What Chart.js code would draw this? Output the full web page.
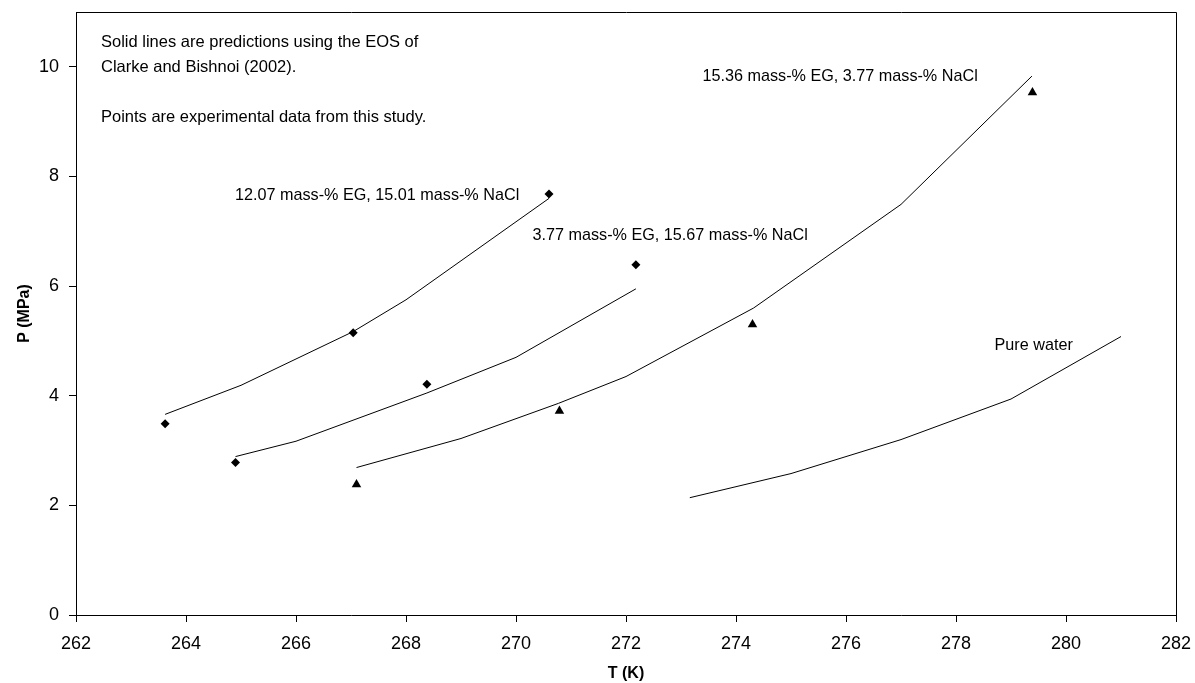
<!DOCTYPE html>
<html>
<head>
<meta charset="utf-8">
<script src="https://cdn.jsdelivr.net/npm/chart.js@4/dist/chart.umd.min.js"></script>
<style>
  html, body { margin: 0; padding: 0; background: #fff; }
  #wrap { width: 1195px; height: 683px; }
</style>
</head>
<body>
<div id="wrap"><canvas id="c" width="1195" height="683"></canvas></div>
<script>
// ---- Data ----
// 12.07 mass-% EG, 15.01 mass-% NaCl
const eg1207_T_line = [263.62, 265.0, 267.04, 268.0, 270.6];
const eg1207_P_line = [3.66, 4.19, 5.17, 5.75, 7.60];
const eg1207_T_exp  = [263.62, 267.04, 270.6];
const eg1207_P_exp  = [3.49, 5.15, 7.68];

// 3.77 mass-% EG, 15.67 mass-% NaCl
const eg377_T_line = [264.9, 266.0, 268.38, 270.0, 272.18];
const eg377_P_line = [2.89, 3.17, 4.05, 4.70, 5.95];
const eg377_T_exp  = [264.9, 268.38, 272.18];
const eg377_P_exp  = [2.78, 4.21, 6.39];

// 15.36 mass-% EG, 3.77 mass-% NaCl
const eg1536_T_line = [267.1, 269.0, 270.77, 272.0, 274.32, 277.0, 279.38];
const eg1536_P_line = [2.69, 3.22, 3.86, 4.35, 5.60, 7.49, 9.83];
const eg1536_T_exp  = [267.1, 270.79, 274.3, 279.39];
const eg1536_P_exp  = [2.38, 3.72, 5.30, 9.53];

// Pure water
const water_T_line = [273.16, 275.0, 277.0, 279.0, 281.0];
const water_P_line = [2.14, 2.58, 3.20, 3.94, 5.08];

const xTicks = [262, 264, 266, 268, 270, 272, 274, 276, 278, 280, 282];
const yTicks = [0, 2, 4, 6, 8, 10];

const seriesLabels = [
  "12.07 mass-% EG, 15.01 mass-% NaCl",
  "3.77 mass-% EG, 15.67 mass-% NaCl",
  "15.36 mass-% EG, 3.77 mass-% NaCl",
  "Pure water"
];
const noteLines = [
  "Solid lines are predictions using the EOS of",
  "Clarke and Bishnoi (2002).",
  "",
  "Points are experimental data from this study."
];

// ---- Helpers ----
const pts = (xs, ys) => xs.map((x, i) => ({ x: x, y: ys[i] }));
const lineDs = (xs, ys) => ({
  data: pts(xs, ys), showLine: true, borderColor: '#000', borderWidth: 1,
  pointRadius: 0, fill: false, tension: 0
});
const markDs = (xs, ys, style, r) => ({
  data: pts(xs, ys), showLine: false, pointStyle: style, pointRadius: r,
  backgroundColor: '#000', borderColor: '#000', borderWidth: 0
});

// label anchors (data coordinates, left edge / vertical centre)
const labelAnchors = [
  { t: 264.89, p: 7.65 },
  { t: 270.30, p: 6.92 },
  { t: 273.39, p: 9.83 },
  { t: 278.70, p: 4.92 }
];

const zeroPad = (s) => { s.paddingTop = 0; s.paddingBottom = 0; s.paddingLeft = 0; s.paddingRight = 0; };

const annotatePlugin = {
  id: 'annotate',
  afterDatasetsDraw(chart) {
    const { ctx, chartArea, scales } = chart;
    ctx.save();
    ctx.strokeStyle = '#000';
    ctx.lineWidth = 1;
    ctx.beginPath();
    ctx.moveTo(Math.round(chartArea.left) + 0.5, Math.round(chartArea.top) + 0.5);
    ctx.lineTo(Math.round(chartArea.right) + 0.5, Math.round(chartArea.top) + 0.5);
    ctx.lineTo(Math.round(chartArea.right) + 0.5, Math.round(chartArea.bottom) + 0.5);
    ctx.stroke();

    ctx.fillStyle = '#000';
    ctx.textBaseline = 'middle';
    ctx.textAlign = 'left';
    ctx.font = '16.5px "Liberation Sans", Arial, sans-serif';
    noteLines.forEach((s, i) => {
      ctx.fillText(s, chartArea.left + 25, chartArea.top + 30 + i * 25);
    });
    ctx.font = '16.2px "Liberation Sans", Arial, sans-serif';
    seriesLabels.forEach((s, i) => {
      const a = labelAnchors[i];
      ctx.fillText(s, scales.x.getPixelForValue(a.t), scales.y.getPixelForValue(a.p));
    });
    ctx.restore();
  }
};

new Chart(document.getElementById('c'), {
  type: 'scatter',
  data: {
    datasets: [
      lineDs(eg1207_T_line, eg1207_P_line),
      lineDs(eg377_T_line, eg377_P_line),
      lineDs(eg1536_T_line, eg1536_P_line),
      lineDs(water_T_line, water_P_line),
      markDs(eg1207_T_exp, eg1207_P_exp, 'rectRot', 4.5),
      markDs(eg377_T_exp, eg377_P_exp, 'rectRot', 4.5),
      markDs(eg1536_T_exp, eg1536_P_exp, 'triangle', 5.5)
    ]
  },
  options: {
    responsive: false,
    animation: false,
    devicePixelRatio: 1,
    layout: { padding: { top: 12, right: 19, left: 0, bottom: 0 } },
    plugins: { legend: { display: false }, tooltip: { enabled: false } },
    scales: {
      x: {
        type: 'linear', min: 262, max: 282,
        afterBuildTicks: (s) => { s.ticks = xTicks.map(v => ({ value: v })); },
        afterFit: (s) => { s.height = 68; zeroPad(s); },
        ticks: { color: '#000', padding: 11, font: { family: '"Liberation Sans", Arial, sans-serif', size: 18 } },
        grid: { display: true, drawOnChartArea: false, drawTicks: true, tickLength: 7, color: '#000', lineWidth: 1 },
        border: { display: true, color: '#000', width: 1 },
        title: { display: true, text: 'T (K)', color: '#000', padding: { top: 0, bottom: 0 },
                 font: { family: '"Liberation Sans", Arial, sans-serif', size: 16, weight: 'bold' } }
      },
      y: {
        type: 'linear', min: 0, max: 11,
        afterBuildTicks: (s) => { s.ticks = yTicks.map(v => ({ value: v })); },
        afterFit: (s) => { s.width = 76; zeroPad(s); },
        ticks: { color: '#000', padding: 10, font: { family: '"Liberation Sans", Arial, sans-serif', size: 18 } },
        grid: { display: true, drawOnChartArea: false, drawTicks: true, tickLength: 7, color: '#000', lineWidth: 1 },
        border: { display: true, color: '#000', width: 1 },
        title: { display: true, text: 'P (MPa)', color: '#000', padding: { top: 15, bottom: 0 },
                 font: { family: '"Liberation Sans", Arial, sans-serif', size: 16, weight: 'bold' } }
      }
    }
  },
  plugins: [annotatePlugin]
});
</script>
</body>
</html>
